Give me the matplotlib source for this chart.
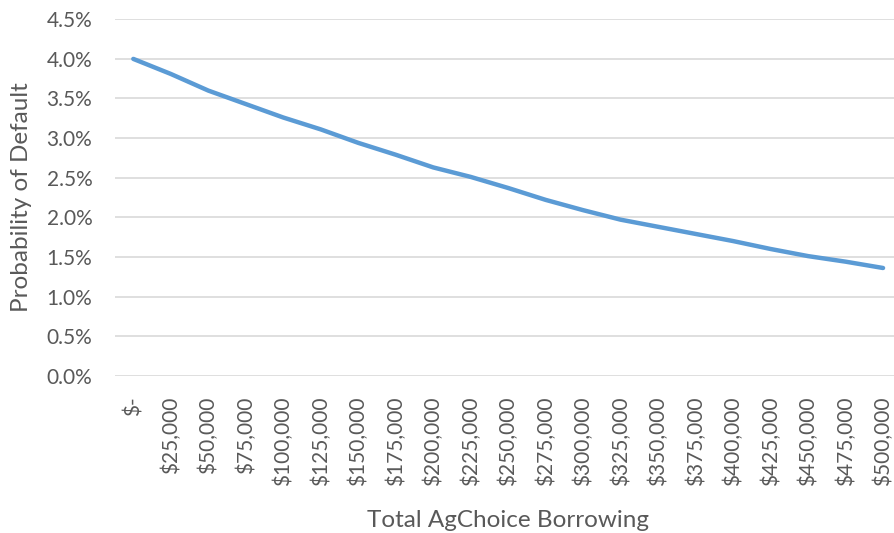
import matplotlib.pyplot as plt
from matplotlib.ticker import PercentFormatter

# 대출 금액 카테고리
borrowing = ['$-', '$25,000', '$50,000', '$75,000', '$100,000', '$125,000', '$150,000',
             '$175,000', '$200,000', '$225,000', '$250,000', '$275,000', '$300,000',
             '$325,000', '$350,000', '$375,000', '$400,000', '$425,000', '$450,000',
             '$475,000', '$500,000']
# 부도 확률 (%)
default_prob = [4.00, 3.81, 3.60, 3.43, 3.26, 3.11, 2.94, 2.79, 2.63, 2.51, 2.37,
                2.22, 2.09, 1.97, 1.88, 1.79, 1.70, 1.60, 1.51, 1.44, 1.36]
y_ticks = [0.0, 0.5, 1.0, 1.5, 2.0, 2.5, 3.0, 3.5, 4.0, 4.5]

plt.rcParams['font.family'] = ['Lato', 'DejaVu Sans']
gray = '#595959'

fig = plt.figure(figsize=(8.95, 5.33), dpi=100)
ax = fig.add_axes([0.128, 0.2951, 0.8796, 0.6687])

x = range(len(borrowing))
ax.plot(x, default_prob, color='#5B9BD5', linewidth=3.2, solid_capstyle='round')

ax.set_xlim(-0.5, len(borrowing) - 0.5)
ax.set_ylim(0, 4.5)
ax.set_yticks(y_ticks)
ax.yaxis.set_major_formatter(PercentFormatter(decimals=1))
ax.set_xticks(list(x))
ax.set_xticklabels(borrowing, rotation=90)
ax.grid(axis='y', color='#D9D9D9', linewidth=1.2)
ax.set_axisbelow(True)
for s in ax.spines.values():
    s.set_visible(False)
ax.tick_params(length=0, labelsize=15, colors=gray)
ax.tick_params(axis='y', pad=16)
ax.tick_params(axis='x', pad=15)

ax.set_ylabel('Probability of Default', fontsize=17.5, color=gray, va='center')
ax.set_xlabel('Total AgChoice Borrowing', fontsize=17.5, color=gray, va='center')
ax.yaxis.set_label_coords(-0.1176, 0.5)
ax.xaxis.set_label_coords(0.5, -0.405)

fig.savefig('out.png', dpi=100)
